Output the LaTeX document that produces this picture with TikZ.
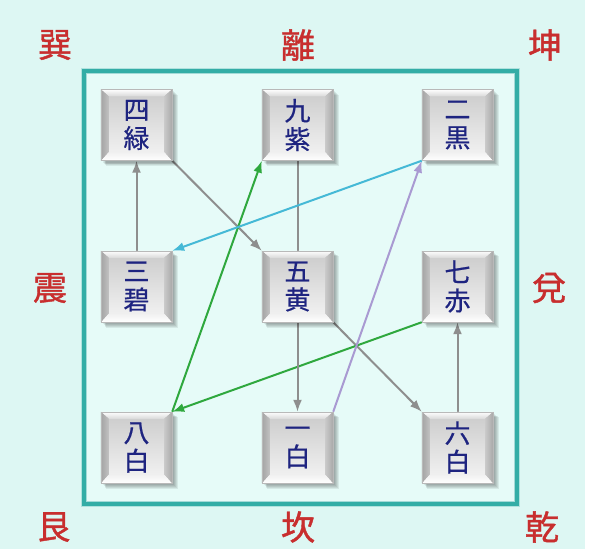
\documentclass[tikz,border=0pt]{standalone}
\usepackage{fontspec}
\newfontfamily\cjk[FakeBold=0.6]{Noto Sans CJK JP}
\newfontfamily\cjkred[FakeBold=1.2]{Noto Sans CJK JP}
\usetikzlibrary{arrows.meta}
\definecolor{bgc}{HTML}{DDF7F3}
\definecolor{inbg}{HTML}{E6FBF8}
\definecolor{frame}{HTML}{33ADA6}
\definecolor{navy}{HTML}{1E2480}
\definecolor{redc}{HTML}{C82E2E}
\definecolor{grayline}{HTML}{8E8E8E}
\definecolor{greenline}{HTML}{2FA83E}
\definecolor{cyanline}{HTML}{45B9D6}
\definecolor{purpline}{HTML}{A99AD2}
\pgfdeclarelayer{bg}
\pgfdeclarelayer{arr}
\pgfdeclarelayer{btn}
\pgfsetlayers{bg,arr,btn,main}
\begin{document}
\begin{tikzpicture}[x=1pt,y=-1pt,
  btnbox/.style={rectangle, minimum width=71pt, minimum height=71pt, inner sep=0pt,
    font=\cjk\fontsize{26}{28.5}\selectfont, text=navy, align=center},
  lab/.style={font=\cjkred\fontsize{34}{34}\selectfont, text=redc, inner sep=0pt},
  conn/.style={line width=2pt, -{Latex[length=12pt,width=9pt]}},
]
\useasboundingbox (0,0) rectangle (600,549);
% nodes
\node[btnbox] (n4) at (136.5,125) {四\\緑};
\node[btnbox] (n9) at (297.5,125) {九\\紫};
\node[btnbox] (n2) at (457.5,125) {二\\黒};
\node[btnbox] (n3) at (136.5,286.5) {三\\碧};
\node[btnbox] (n5) at (297.5,286.5) {五\\黄};
\node[btnbox] (n7) at (457.5,286.5) {七\\赤};
\node[btnbox] (n8) at (136.5,447.5) {八\\白};
\node[btnbox] (n1) at (297.5,447.5) {一\\白};
\node[btnbox] (n6) at (457.5,447.5) {六\\白};
% labels
\node[lab] (xun) at (55,45) {巽};
\node[lab] (li) at (298,45) {離};
\node[lab] (kun) at (545,45) {坤};
\node[lab] (zhen) at (50,288) {震};
\node[lab] (dui) at (549,288) {兌};
\node[lab] (gen) at (54,527) {艮};
\node[lab] (kan) at (298,527) {坎};
\node[lab] (qian) at (542,527) {乾};
% background
\begin{pgfonlayer}{bg}
  \fill[white] (0,0) rectangle (600,549);
  \fill[bgc] (0,0) rectangle (585,549);
  \fill[inbg] (84,71) rectangle (517,504);
  \draw[frame!60, line width=6pt, opacity=0.5] (84,71) rectangle (517,504);
  \draw[frame, line width=4pt] (84,71) rectangle (517,504);
  \draw[frame!45, line width=0.8pt] (86.5,73.5) rectangle (514.5,501.5);
\end{pgfonlayer}
% buttons
\begin{pgfonlayer}{btn}
\foreach \n in {n1,n2,n3,n4,n5,n6,n7,n8,n9}{
  \foreach \s in {1,2,3,4,5}{
    \fill[black, opacity=0.07] ([xshift=\s*0.9pt+1pt,yshift=-\s*0.9pt-1pt]\n.south west) rectangle ([xshift=\s*0.9pt+1pt,yshift=-\s*0.9pt-1pt]\n.north east);
  }
  \fill[gray!62] (\n.south west) rectangle (\n.north east);
  \shade[top color=gray!38, bottom color=gray!12] ([xshift=8pt,yshift=9pt]\n.south west) rectangle ([xshift=-8pt,yshift=-7pt]\n.north east);
  \shade[top color=white, bottom color=gray!30] (\n.north west) -- (\n.north east) -- ([xshift=-8pt,yshift=-7pt]\n.north east) -- ([xshift=8pt,yshift=-7pt]\n.north west) -- cycle;
  \shade[bottom color=white, top color=gray!12] (\n.south west) -- (\n.south east) -- ([xshift=-8pt,yshift=9pt]\n.south east) -- ([xshift=8pt,yshift=9pt]\n.south west) -- cycle;
  \shade[left color=gray!72, right color=gray!48] (\n.south west) -- (\n.north west) -- ([xshift=8pt,yshift=-7pt]\n.north west) -- ([xshift=8pt,yshift=9pt]\n.south west) -- cycle;
  \shade[left color=gray!42, right color=gray!68] (\n.south east) -- (\n.north east) -- ([xshift=-8pt,yshift=-7pt]\n.north east) -- ([xshift=-8pt,yshift=9pt]\n.south east) -- cycle;
  \draw[gray!55, line width=0.6pt] (\n.south west) rectangle (\n.north east);
}
\end{pgfonlayer}
% connectors
\begin{pgfonlayer}{arr}
  \draw[conn, grayline] (n3.north) -- (n4.south);
  \draw[conn, grayline] (n4.south east) -- (n5.north west);
  \draw[conn, grayline] (n5.south east) -- (n6.north west);
  \draw[conn, grayline] (n6.north) -- (n7.south);
  \draw[conn, greenline] (n7.south west) -- (n8.north east);
  \draw[conn, greenline] (n8.north east) -- (n9.south west);
  \draw[conn, grayline] (n9.south) -- (n1.north);
  \draw[conn, purpline] (n1.north east) -- (n2.south west);
  \draw[conn, cyanline] (n2.south west) -- (n3.north east);
\end{pgfonlayer}
\end{tikzpicture}
\end{document}
